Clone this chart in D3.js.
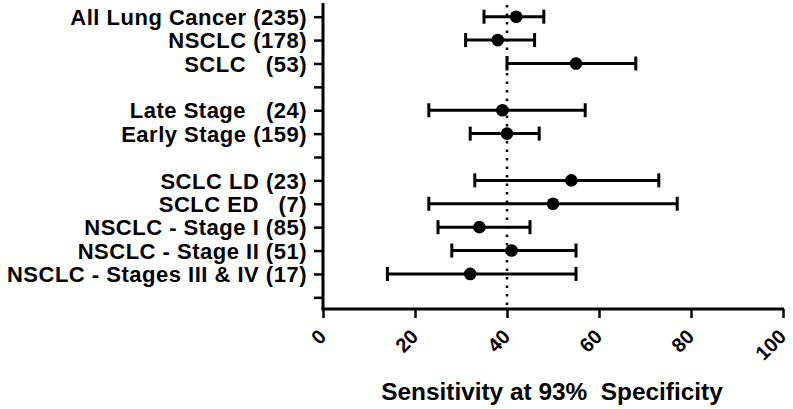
<!DOCTYPE html>
<html>
<head>
<meta charset="utf-8">
<script src="https://cdn.jsdelivr.net/npm/d3@7"></script>
<style>
  html, body { margin: 0; padding: 0; background: #fff; }
  svg { display: block; }
  text { font-family: "Liberation Sans", Arial, sans-serif; font-weight: bold; fill: #000; }
</style>
</head>
<body>
<svg id="chart" width="793" height="409"></svg>
<script>
// ---- Data ----
const labels = [
  "All Lung Cancer (235)",
  "NSCLC (178)",
  "SCLC   (53)",
  "",
  "Late Stage   (24)",
  "Early Stage (159)",
  "",
  "SCLC LD (23)",
  "SCLC ED   (7)",
  "NSCLC - Stage I (85)",
  "NSCLC - Stage II (51)",
  "NSCLC - Stages III & IV (17)",
  ""
];
const sensitivity = [42, 38, 55, null, 39, 40, null, 54, 50, 34, 41, 32, null];
const lowerCI     = [35, 31, 40, null, 23, 32, null, 33, 23, 25, 28, 14, null];
const upperCI     = [48, 46, 68, null, 57, 47, null, 73, 77, 45, 55, 55, null];
const xTicks = [0, 20, 40, 60, 80, 100];
const referenceLine = 40;
const xTitle = "Sensitivity at 93%  Specificity";

// ---- Layout ----
const svg = d3.select("#chart");
const mLeft = 323, mRight = 783, mTop = 5, mBottom = 309;

const x = d3.scaleLinear().domain([0, 100]).range([mLeft, mRight]);
const y = d3.scalePoint().domain(d3.range(labels.length)).range([mTop, mBottom]).padding(0.5);

// Reference dotted line
svg.append("line")
  .attr("x1", x(referenceLine)).attr("x2", x(referenceLine))
  .attr("y1", mTop).attr("y2", mBottom)
  .attr("stroke", "#000").attr("stroke-width", 2.5)
  .attr("stroke-dasharray", "2.5,6");

// Y axis
const yAxis = svg.append("g")
  .attr("transform", `translate(${mLeft},0)`)
  .call(d3.axisLeft(y).tickSize(9).tickSizeOuter(0).tickPadding(7).tickFormat(i => labels[i]));
yAxis.select(".domain").attr("stroke-width", 3).attr("d", `M0,${mTop - 2}V${mBottom + 1}`);
yAxis.selectAll(".tick line").attr("stroke-width", 2.5);
yAxis.selectAll(".tick text")
  .style("font-size", "22px")
  .style("letter-spacing", "0.5px")
  .attr("dy", "0.35em")
  .attr("xml:space", "preserve");

// X axis
const xAxis = svg.append("g")
  .attr("transform", `translate(0,${mBottom})`)
  .call(d3.axisBottom(x).tickValues(xTicks).tickSize(9).tickSizeOuter(0));
xAxis.select(".domain").attr("stroke-width", 3).attr("d", `M${mLeft - 1.5},0H${mRight + 1}`);
xAxis.selectAll(".tick line").attr("stroke-width", 2.5);
xAxis.selectAll(".tick text")
  .style("font-size", "20px")
  .attr("text-anchor", "end")
  .attr("x", 0).attr("y", 0).attr("dy", "0.35em")
  .attr("transform", "translate(-1,24) rotate(-45)");

// Error bars
const rows = labels.map((l, i) => ({ i, v: sensitivity[i], lo: lowerCI[i], hi: upperCI[i] }))
  .filter(d => d.v !== null);

const g = svg.append("g");
g.selectAll("line.bar").data(rows).join("line")
  .attr("class", "bar")
  .attr("x1", d => x(d.lo)).attr("x2", d => x(d.hi))
  .attr("y1", d => y(d.i)).attr("y2", d => y(d.i))
  .attr("stroke", "#000").attr("stroke-width", 3);
g.selectAll("line.capL").data(rows).join("line")
  .attr("class", "capL")
  .attr("x1", d => x(d.lo)).attr("x2", d => x(d.lo))
  .attr("y1", d => y(d.i) - 7).attr("y2", d => y(d.i) + 7)
  .attr("stroke", "#000").attr("stroke-width", 3);
g.selectAll("line.capH").data(rows).join("line")
  .attr("class", "capH")
  .attr("x1", d => x(d.hi)).attr("x2", d => x(d.hi))
  .attr("y1", d => y(d.i) - 7).attr("y2", d => y(d.i) + 7)
  .attr("stroke", "#000").attr("stroke-width", 3);
g.selectAll("circle").data(rows).join("circle")
  .attr("cx", d => x(d.v)).attr("cy", d => y(d.i)).attr("r", 6.3)
  .attr("fill", "#000");

// X axis title
svg.append("text")
  .attr("x", (mLeft + mRight) / 2 - 1).attr("y", 400)
  .attr("text-anchor", "middle")
  .attr("xml:space", "preserve")
  .style("font-size", "24.4px")
  .text(xTitle);
</script>
</body>
</html>
